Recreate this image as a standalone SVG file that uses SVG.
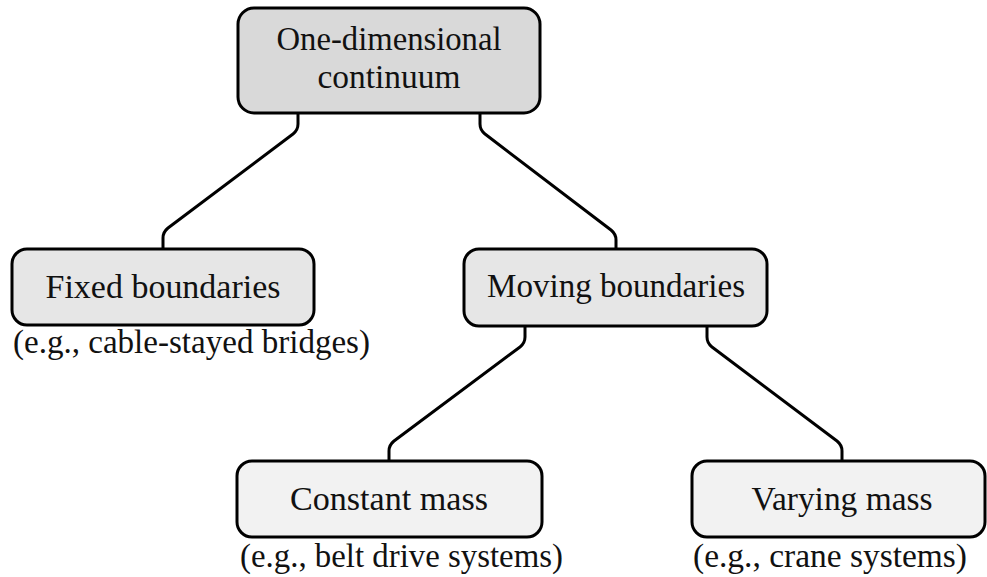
<svg xmlns="http://www.w3.org/2000/svg" width="987" height="577" viewBox="0 0 987 577">
<style>
.box{stroke:#000;stroke-width:3}
.l1{fill:#d9d9d9}
.l2{fill:#e6e6e6}
.l3{fill:#f2f2f2}
.t{font-size:33px;fill:#111}
.c{text-anchor:middle}
.conn{fill:none;stroke:#000;stroke-width:3;stroke-linejoin:round}
</style>
<rect width="987" height="577" fill="#fff"/>
<g id="connectors">
<path class="conn" d="M298,113 V124 Q298,130 293,134 L168,228 Q163,232 163,238 V249"/>
<path class="conn" d="M480,113 V124 Q480,130 485,134 L611,230 Q616,234 616,240 V249"/>
<path class="conn" d="M525,326 V337 Q525,343 520,347 L394,441 Q389,445 389,451 V461"/>
<path class="conn" d="M707,326 V337 Q707,343 712,347 L837,441 Q842,445 842,451 V461"/>
</g>
<g font-family="'Liberation Serif', 'DejaVu Serif', 'Noto Serif', Tinos, Times, serif">
<g id="root">
<rect class="box l1" x="238" y="8" width="302" height="105" rx="16"/>
<text class="t c" x="389" y="50" textLength="225" lengthAdjust="spacingAndGlyphs">One-dimensional</text>
<text class="t c" x="389" y="88" textLength="143" lengthAdjust="spacingAndGlyphs">continuum</text>
</g>
<g id="fixed">
<rect class="box l2" x="12" y="249" width="302" height="76" rx="15"/>
<text class="t c" x="163" y="298" textLength="235" lengthAdjust="spacingAndGlyphs">Fixed boundaries</text>
<text class="t" x="13" y="353" textLength="357" lengthAdjust="spacingAndGlyphs">(e.g., cable-stayed bridges)</text>
</g>
<g id="moving">
<rect class="box l2" x="464" y="249" width="303" height="77" rx="15"/>
<text class="t c" x="616" y="297" textLength="258" lengthAdjust="spacingAndGlyphs">Moving boundaries</text>
</g>
<g id="constant">
<rect class="box l3" x="237" y="461" width="305" height="76" rx="15"/>
<text class="t c" x="389" y="510" textLength="198" lengthAdjust="spacingAndGlyphs">Constant mass</text>
<text class="t" x="240" y="567" textLength="323" lengthAdjust="spacingAndGlyphs">(e.g., belt drive systems)</text>
</g>
<g id="varying">
<rect class="box l3" x="692" y="461" width="293" height="76" rx="15"/>
<text class="t c" x="842" y="510" textLength="181" lengthAdjust="spacingAndGlyphs">Varying mass</text>
<text class="t" x="693" y="567" textLength="274" lengthAdjust="spacingAndGlyphs">(e.g., crane systems)</text>
</g>
</g>
</svg>
